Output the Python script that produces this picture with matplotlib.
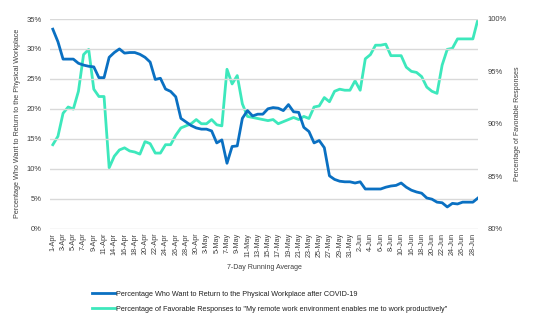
import matplotlib.pyplot as plt
from matplotlib.ticker import FuncFormatter

plt.rcParams['font.family'] = ['Liberation Sans', 'DejaVu Sans']

# categories (7-day running average end dates)
dates = (
    [f'{d}-Apr' for d in [1, 2, 3, 4, 5, 6, 7, 8, 9, 10, 11, 12, 14, 15, 16, 17, 18, 19, 20,
                           21, 22, 23, 24, 25, 26, 27, 28, 29, 30]]
    + [f'{d}-May' for d in [1, 3, 4, 5, 6, 7, 8, 9, 10, 11, 12, 13, 14, 15, 16, 17, 18, 19,
                             20, 21, 22, 23, 24, 25, 26, 27, 28, 29, 30, 31]]
    + [f'{d}-Jun' for d in [1, 2, 3, 4, 5, 6, 7, 8, 9, 10, 15, 16, 17, 18, 19, 20, 21, 22,
                             23, 24, 25, 26, 27, 28, 29]]
)

# % who want to return to the physical workplace (left axis)
return_pct = [
    33.3, 31.2, 28.3, 28.3, 28.3, 27.6, 27.3, 27.1, 27.0, 25.2,
    25.2, 28.6, 29.4, 30.0, 29.3, 29.4, 29.4, 29.1, 28.6, 27.8,
    24.9, 25.1, 23.3, 22.9, 22.0, 18.4, 17.8, 17.2, 16.8, 16.6,
    16.6, 16.3, 14.3, 14.8, 10.9, 13.7, 13.8, 18.4, 19.7, 18.8,
    19.1, 19.1, 20.0, 20.2, 20.1, 19.7, 20.7, 19.5, 19.4, 16.9,
    16.2, 14.3, 14.7, 13.5, 8.8, 8.2, 7.9, 7.8, 7.8, 7.6,
    7.8, 6.6, 6.6, 6.6, 6.6, 6.9, 7.1, 7.2, 7.6, 6.9,
    6.4, 6.1, 5.9, 5.1, 4.9, 4.4, 4.3, 3.6, 4.2, 4.1,
    4.4, 4.4, 4.4, 5.1,
]

# % favorable responses (right axis)
favorable_pct = [
    88.0, 88.8, 91.0, 91.6, 91.4, 93.1, 96.6, 97.1, 93.3, 92.6,
    92.6, 85.8, 86.9, 87.5, 87.7, 87.4, 87.3, 87.1, 88.3, 88.1,
    87.2, 87.2, 88.0, 88.0, 88.9, 89.6, 89.8, 90.0, 90.4, 90.0,
    90.0, 90.4, 89.9, 89.8, 95.2, 93.8, 94.6, 91.9, 90.7, 90.6,
    90.5, 90.4, 90.3, 90.4, 90.0, 90.2, 90.4, 90.6, 90.4, 90.7,
    90.5, 91.6, 91.7, 92.5, 92.1, 93.1, 93.3, 93.2, 93.2, 94.1,
    93.2, 96.2, 96.6, 97.5, 97.5, 97.6, 96.5, 96.5, 96.5, 95.4,
    95.0, 94.9, 94.5, 93.5, 93.1, 92.9, 95.6, 97.1, 97.2, 98.1,
    98.1, 98.1, 98.1, 100.0,
]

blue = '#0A70C2'
green = '#3DE8BC'
txt = '#404040'
x = list(range(len(dates)))

fig = plt.figure(figsize=(5.5, 3.32), dpi=100)
ax = fig.add_axes([50 / 550, 1 - 228.5 / 332, 428 / 550, 209.5 / 332])
ax2 = ax.twinx()

l1, = ax.plot(x, return_pct, color=blue, lw=2.0, zorder=3,
              label='Percentage Who Want to Return to the Physical Workplace after COVID-19')
l2, = ax2.plot(x, favorable_pct, color=green, lw=2.0, zorder=3,
               label='Percentage of Favorable Responses to "My remote work environment enables me to work productively"')
ax.set_zorder(ax2.get_zorder() + 1)
ax.patch.set_visible(False)

ax.set_ylim(0, 35)
ax.set_yticks(range(0, 36, 5))
ax.yaxis.set_major_formatter(FuncFormatter(lambda v, p: f'{v:.0f}%'))
ax2.set_ylim(80, 100)
ax2.set_yticks(range(80, 101, 5))
ax2.yaxis.set_major_formatter(FuncFormatter(lambda v, p: f'{v:.0f}%'))
ax.set_xlim(-0.55, len(dates) - 1)

ax.grid(axis='y', color='#D9D9D9', lw=1)
ax.set_axisbelow(True)
for a in (ax, ax2):
    for s in a.spines.values():
        s.set_visible(False)
    a.tick_params(length=0, labelsize=5.5, colors=txt)

ax.set_xticks(x[::2])
ax.set_xticklabels(dates[::2], rotation=90, fontsize=5.2)
ax.tick_params(axis='x', pad=3)
ax.tick_params(axis='y', pad=6)
ax2.tick_params(axis='y', pad=7)

ax.set_ylabel('Percentage Who Want to Return to the Physical Workplace', fontsize=5.2, color=txt, labelpad=4)
ax2.set_ylabel('Percentage of Favorable Responses', fontsize=5.0, color=txt, labelpad=5)
ax.set_xlabel('7-Day Running Average', fontsize=5.0, color=txt, labelpad=5)

fig.legend(handles=[l1, l2], loc='upper left', bbox_to_anchor=(85 / 550, 1 - 284 / 332),
           frameon=False, fontsize=5.2, handlelength=3.2, handletextpad=0.15,
           labelspacing=1.1, labelcolor='#202020')

fig.savefig('out.png', dpi=100)
